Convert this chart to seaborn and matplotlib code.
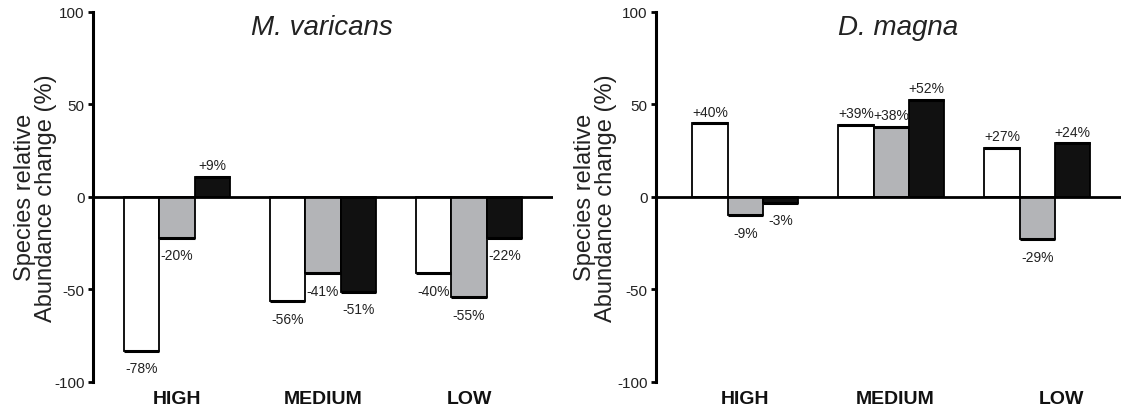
import matplotlib
matplotlib.use("Agg")
import matplotlib.pyplot as plt
import matplotlib.transforms as mtransforms
import seaborn as sns
import pandas as pd
from matplotlib import font_manager

# ---------------- data ----------------
categories = ["HIGH", "MEDIUM", "LOW"]
series = ["white", "gray", "black"]

mv_white = [-83.3, -56.5, -41.3]
mv_gray = [-22.1, -41.3, -54.3]
mv_black = [10.5, -51.3, -22.1]
mv_white_labels = ["-78%", "-56%", "-40%"]
mv_gray_labels = ["-20%", "-41%", "-55%"]
mv_black_labels = ["+9%", "-51%", "-22%"]

dm_white = [39.6, 38.7, 26.4]
dm_gray = [-10.0, 37.8, -23.0]
dm_black = [-3.2, 52.2, 28.8]
dm_white_labels = ["+40%", "+39%", "+27%"]
dm_gray_labels = ["-9%", "+38%", "-29%"]
dm_black_labels = ["-3%", "+52%", "+24%"]

titles = ["M. varicans", "D. magna"]
yticks = [-100, -50, 0, 50, 100]
ylabel = "Species relative\nAbundance change (%)"

colors = {"white": "#ffffff", "gray": "#b3b4b7", "black": "#111111"}

# ---------------- fonts ----------------
sns.set_theme(style="white")
avail = {f.name for f in font_manager.fontManager.ttflist}
narrow = "Liberation Sans Narrow" if "Liberation Sans Narrow" in avail else "Liberation Sans"
plt.rcParams["font.family"] = ["Liberation Sans", "DejaVu Sans"]


def make_df(w, g, b):
    rows = []
    for s, vals in zip(series, [w, g, b]):
        for c, v in zip(categories, vals):
            rows.append({"category": c, "series": s, "value": v})
    return pd.DataFrame(rows)


W, H = 1121, 410
fig = plt.figure(figsize=(W / 100, H / 100), dpi=100)
ax1 = fig.add_axes([92.5 / W, (H - 383) / H, 460.5 / W, 370.5 / H])
ax2 = fig.add_axes([655.5 / W, (H - 383) / H, 465.5 / W, 370.5 / H])

panels = [
    (ax1, make_df(mv_white, mv_gray, mv_black),
     [mv_white_labels, mv_gray_labels, mv_black_labels], (-0.579, 2.575), titles[0], 322,
     -0.077, [0, 0, 0]),
    (ax2, make_df(dm_white, dm_gray, dm_black),
     [dm_white_labels, dm_gray_labels, dm_black_labels], (-0.616, 2.572), titles[1], 898,
     -0.083, [0, 4, 24]),
]

for ax, df, labels, xl, title, tx, ylx, xoffs in panels:
    sns.barplot(data=df, x="category", y="value", hue="series", order=categories,
                hue_order=series, palette=colors, width=0.726, edgecolor="black",
                linewidth=1.3, saturation=1, legend=False, ax=ax, zorder=2)
    ax.set_xlim(*xl)
    ax.set_ylim(-100, 100)
    ax.set_yticks(yticks)
    ax.set_yticklabels([str(t) for t in yticks], family=[narrow, "DejaVu Sans"], fontsize=11)
    ax.tick_params(axis="y", which="major", direction="out", length=3.8, width=2,
                   color="black", left=True, pad=2)
    ax.tick_params(axis="x", length=0, pad=6)
    for lab, dx in zip(ax.get_xticklabels(), xoffs):
        lab.set_family([narrow, "DejaVu Sans"])
        lab.set_fontweight("bold")
        lab.set_fontsize(14)
        lab.set_color("#111111")
        if dx:
            lab.set_transform(lab.get_transform() +
                              mtransforms.ScaledTranslation(dx / 100, 0, fig.dpi_scale_trans))
    for lab in ax.get_yticklabels():
        lab.set_color("#222222")
    ax.set_xlabel("")
    ax.set_ylabel(ylabel, fontsize=17, linespacing=0.95, color="#222222")
    ax.yaxis.set_label_coords(ylx, 0.5)
    for s in ["top", "right", "bottom"]:
        ax.spines[s].set_visible(False)
    ax.spines["left"].set_linewidth(2.2)
    ax.spines["left"].set_color("black")
    ax.axhline(0, color="black", lw=2.0, zorder=4)

    for cont, labs in zip(ax.containers, labels):
        for patch, lab in zip(cont.patches, labs):
            x0 = patch.get_x()
            x1 = x0 + patch.get_width()
            h = patch.get_height()
            yend = patch.get_y() + h
            ax.plot([x0, x1], [yend, yend], color="black", lw=2.2,
                    solid_capstyle="butt", zorder=3)
            xc = x0 + patch.get_width() / 2
            off = 8.5 if h >= 0 else -12.5
            ax.annotate(lab, (xc, yend), xytext=(0, off), textcoords="offset points",
                        ha="center", va="center", fontsize=10,
                        family=[narrow, "DejaVu Sans"], color="#222222",
                        annotation_clip=False)

    fig.text(tx / W, (H - 28) / H, title, ha="center", va="center",
             fontsize=20, style="italic", color="#222222")

fig.savefig("out.png", dpi=100)
